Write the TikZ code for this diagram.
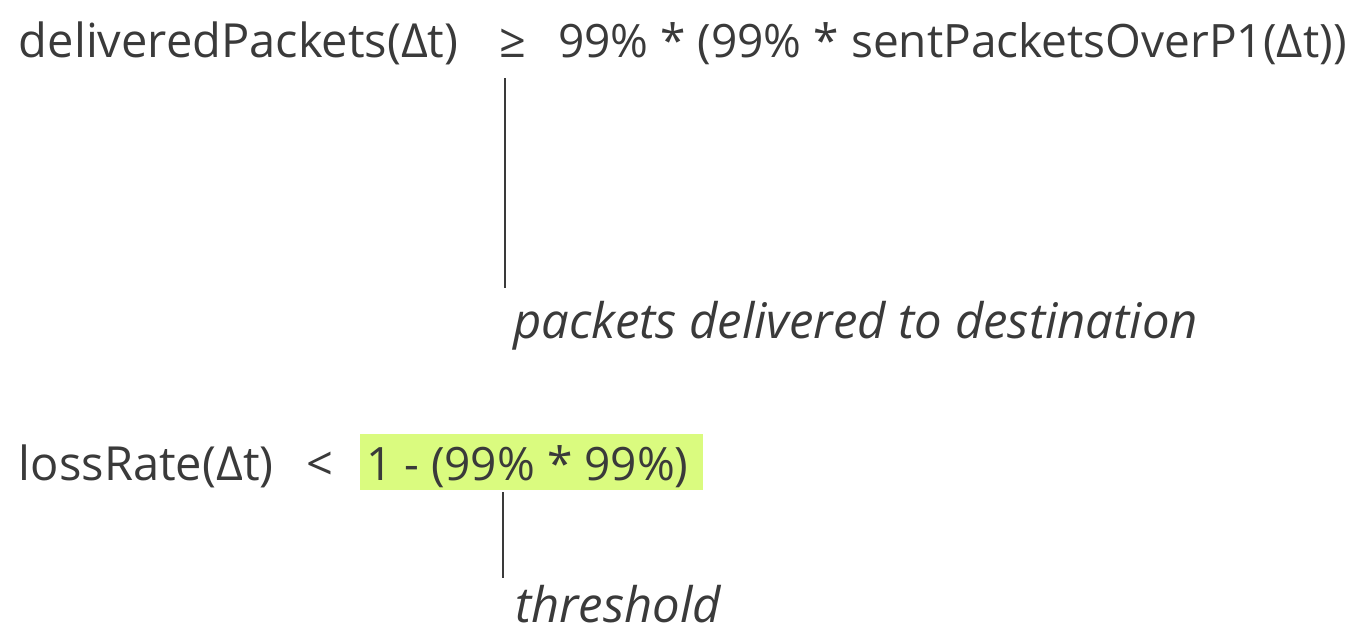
\documentclass[tikz,border=0pt]{standalone}
\usepackage{fontspec}
\setmainfont{Open Sans}
\definecolor{txt}{HTML}{3A3A3A}
\definecolor{hl}{HTML}{DAFB7F}
\begin{document}
\begin{tikzpicture}[x=1pt,y=-1pt,
  every node/.style={inner sep=0pt, outer sep=0pt, text=txt},
  formula/.style={anchor=base west, font=\fontsize{47}{56}\selectfont},
  formulab/.style={anchor=base west, font=\fontsize{46}{55}\selectfont},
  rel/.style={anchor=base, font=\fontsize{47}{56}\selectfont},
  note/.style={anchor=base west, font=\fontsize{49}{58}\selectfont\itshape},
  hlbox/.style={fill=hl, minimum width=343pt, minimum height=56pt, anchor=north west},
  leader/.style={draw=txt, line width=1.2pt}]
\useasboundingbox (0,0) rectangle (1358,643);
% first formula
\node[formula] (f1a) at (19,57) {deliveredPackets(Δt)};
\node[rel] (ge) at (513,57) {≥};
\node[formulab] (f1b) at (558,57) {99\% * (99\% * sentPacketsOverP1(Δt))};
\coordinate (l1a) at (505,78);
\coordinate (l1b) at (505,288);
\draw[leader] (l1a) -- (l1b);
\node[note] (n1) at (513,338) {packets delivered to destination};
% second formula
\node[hlbox] (hb) at (360,434) {};
\node[formula] (f2a) at (19,480) {lossRate(Δt)};
\node[rel] (lt) at (320,480) {<};
\node[formulab] (f2b) at (366,480) {1 - (99\% * 99\%)};
\coordinate (l2a) at (503,492);
\coordinate (l2b) at (503,578);
\draw[leader] (l2a) -- (l2b);
\node[note] (n2) at (515,622) {threshold};
\end{tikzpicture}
\end{document}
